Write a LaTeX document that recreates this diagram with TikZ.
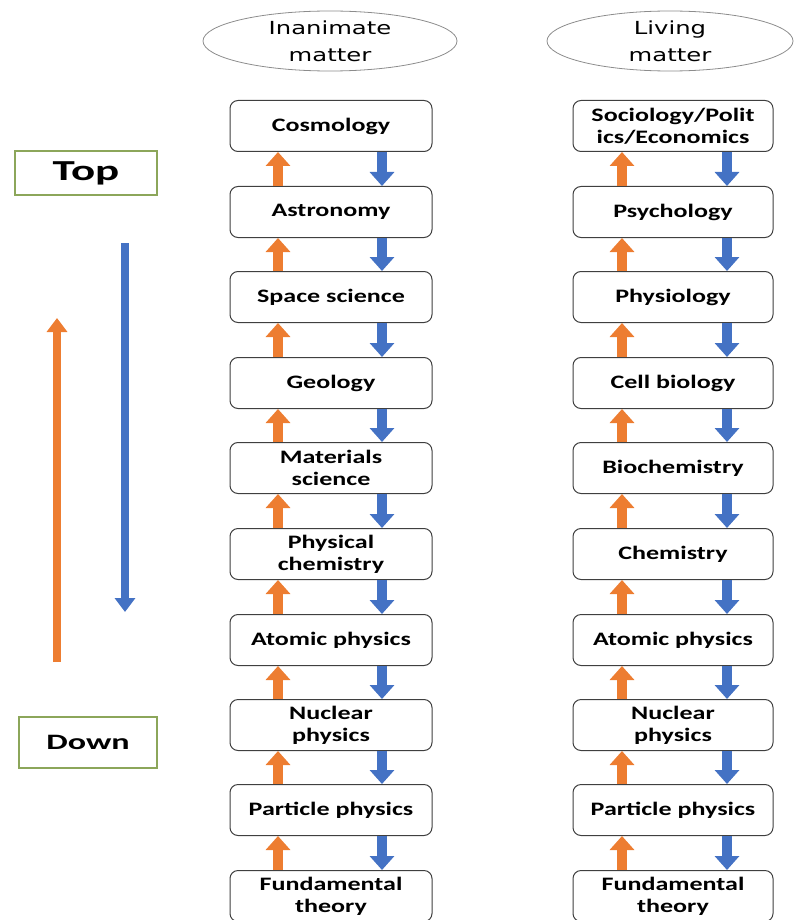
\documentclass[tikz,border=0pt]{standalone}
\usepackage{fontspec}
\usetikzlibrary{arrows.meta,calc,shapes.geometric}
\newfontfamily\boxfont{Carlito}[FakeStretch=1.37]
\newfontfamily\lblfont{Carlito}[FakeStretch=1.55]
\newfontfamily\elfont{DejaVu Sans}[FakeStretch=1.35]
\definecolor{orng}{HTML}{ED7D31}
\definecolor{blu}{HTML}{4472C4}
\definecolor{grn}{HTML}{8CA65A}
\definecolor{boxline}{HTML}{3F3F3F}
\begin{document}
\begin{tikzpicture}[x=1pt,y=-1pt,
  box/.style={draw=boxline,line width=1pt,rounded corners=8pt,minimum height=51pt,
    align=center,inner sep=0pt,text=black,
    font=\boxfont\bfseries\fontsize{19}{22}\selectfont},
  lbox/.style={box,minimum width=202pt},
  rbox/.style={box,minimum width=200pt},
  uparr/.style={draw=orng,line width=10pt,-{Triangle[width=24pt,length=14pt]}},
  dnarr/.style={draw=blu,line width=10pt,-{Triangle[width=24pt,length=14pt]}},
  bigup/.style={draw=orng,line width=8pt,-{Triangle[width=20pt,length=14pt]}},
  bigdn/.style={draw=blu,line width=8pt,-{Triangle[width=20pt,length=14pt]}},
  head/.style={ellipse,draw=black!45,line width=0.8pt,minimum height=60pt,inner sep=0pt,
    align=center,font=\elfont\fontsize{18}{27}\selectfont,text=black},
  lvl/.style={draw=grn,line width=2pt,inner sep=0pt,font=\lblfont\bfseries,text=black}
]
\useasboundingbox (0,0) rectangle (793,920);

% headers
\node[head,minimum width=254pt] (hL) at (330,41) {Inanimate\\matter};
\node[head,minimum width=246pt] (hR) at (670,41) {Living\\matter};

% level labels
\node[lvl,minimum width=142pt,minimum height=43pt,font=\lblfont\bfseries\fontsize{29}{30}\selectfont] (top) at (86,173) {Top};
\node[lvl,minimum width=138pt,minimum height=51pt,font=\lblfont\bfseries\fontsize{22}{24}\selectfont] (down) at (88,742) {Down};

% big arrows
\coordinate (bbs) at (125,243);
\coordinate (bbe) at (125,612);
\draw[bigdn] (bbs) -- (bbe);
\coordinate (obs) at (57,662);
\coordinate (obe) at (57,318);
\draw[bigup] (obs) -- (obe);

% left column
\node[lbox] (L1) at (331,126) {Cosmology};
\node[lbox] (L2) at (331,212) {Astronomy};
\node[lbox] (L3) at (331,297) {Space science};
\node[lbox] (L4) at (331,383) {Geology};
\node[lbox] (L5) at (331,468) {Materials\\science};
\node[lbox] (L6) at (331,554) {Physical\\chemistry};
\node[lbox] (L7) at (331,640) {Atomic physics};
\node[lbox] (L8) at (331,725) {Nuclear\\physics};
\node[lbox] (L9) at (331,810) {Particle physics};
\node[lbox] (L10) at (331,896) {Fundamental\\theory};

% right column
\node[rbox] (R1) at (673,126) {Sociology/Polit\\ics/Economics};
\node[rbox] (R2) at (673,212) {Psychology};
\node[rbox] (R3) at (673,297) {Physiology};
\node[rbox] (R4) at (673,383) {Cell biology};
\node[rbox] (R5) at (673,468) {Biochemistry};
\node[rbox] (R6) at (673,554) {Chemistry};
\node[rbox] (R7) at (673,640) {Atomic physics};
\node[rbox] (R8) at (673,725) {Nuclear\\physics};
\node[rbox] (R9) at (673,810) {Particle physics};
\node[rbox] (R10) at (673,896) {Fundamental\\theory};

\foreach \i [evaluate=\i as \j using int(\i+1)] in {1,...,9} {
  \draw[uparr] ($(L\j.north)+(-53,0)$) -- ($(L\i.south)+(-53,0)$);
  \draw[dnarr] ($(L\i.south)+(51,0)$) -- ($(L\j.north)+(51,0)$);
  \draw[uparr] ($(R\j.north)+(-51,0)$) -- ($(R\i.south)+(-51,0)$);
  \draw[dnarr] ($(R\i.south)+(54,0)$) -- ($(R\j.north)+(54,0)$);
}
\end{tikzpicture}
\end{document}
